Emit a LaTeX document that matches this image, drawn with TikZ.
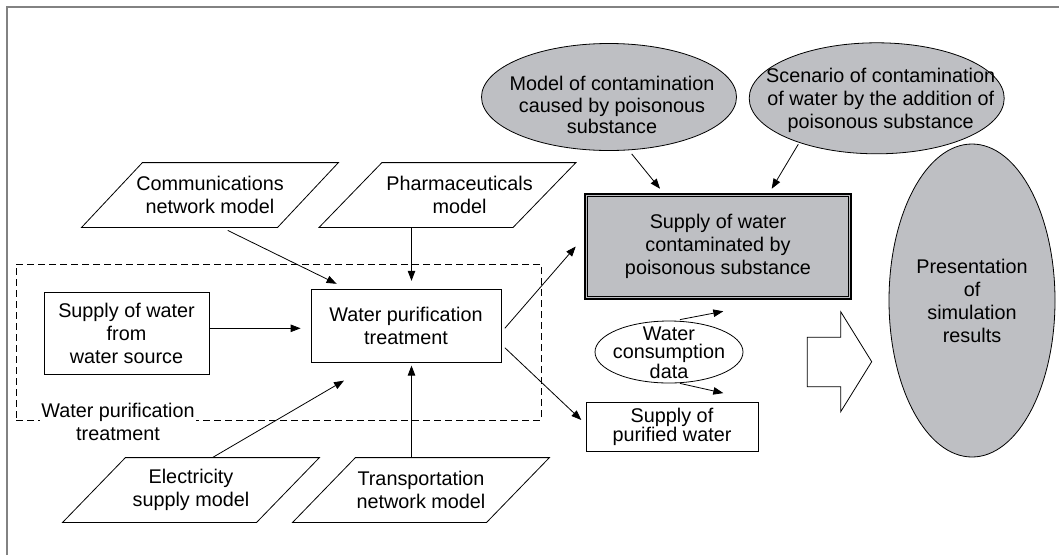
\documentclass[tikz,border=0pt]{standalone}
\usepackage{fontspec}
\setmainfont{Liberation Sans}
\usetikzlibrary{arrows.meta,calc,shapes.geometric}
\definecolor{fillgray}{RGB}{190,191,195}
\definecolor{framegray}{RGB}{130,130,130}
\begin{document}
\begin{tikzpicture}[x=1pt,y=-1pt,line width=0.8pt,
  every node/.style={font=\fontsize{19.8pt}{23pt}\selectfont,align=center,inner sep=0pt},
  box/.style={draw,rectangle},
  para/.style={rectangle,minimum width=256pt,minimum height=64pt},
  ell/.style={draw,ellipse,fill=fillgray},
  arr/.style={-{Triangle[length=10pt,width=7.5pt]}}]
\useasboundingbox (0,0) rectangle (1059,555);
\draw[framegray,line width=1.2pt] (7,555) -- (7,7) -- (1059,7);
% group frame
\node[draw,dash pattern=on 7pt off 4pt,minimum width=525pt,minimum height=156pt] (grp) at (278.5,342) {};
\node[box,minimum width=165pt,minimum height=82pt] (supply) at (126.5,333) {Supply of water\\from\\water source};
\node[box,minimum width=190pt,minimum height=73pt] (wpt) at (406,325.7) {Water purification\\treatment};
\node[fill=white,inner sep=1pt] (grplabel) at (118,421.7) {Water purification\\treatment};
% parallelograms
\node[para] (comm) at (210,195) {Communications\\network model};
\draw (comm.south west) -- ++(196,0) -- (comm.north east) -- ++(-196,0) -- cycle;
\node[para] (pharm) at (447.5,195) {\hspace*{24pt}Pharmaceuticals\\\hspace*{24pt}model};
\draw (pharm.south west) -- ++(194,0) -- (pharm.north east) -- ++(-194,0) -- cycle;
\node[para] (elec) at (191,490) {Electricity\\supply model};
\draw (elec.south west) -- ++(194,0) -- (elec.north east) -- ++(-194,0) -- cycle;
\node[para] (trans) at (421,490) {Transportation\\network model};
\draw (trans.south west) -- ++(194,0) -- (trans.north east) -- ++(-194,0) -- cycle;
% right part
\node[ell,minimum width=255pt,minimum height=107pt] (model) at (609,97) {};
\node[font=\fontsize{19.8pt}{21.5pt}\selectfont] (modeltext) at (612,105) {Model of contamination\\caused by poisonous\\substance};
\node[ell,minimum width=255pt,minimum height=111pt] (scen) at (876.7,98.3) {};
\node (scentext) at (880.7,100) {Scenario of contamination\\of water by the addition of\\poisonous substance};
\node[draw,line width=2.5pt,fill=fillgray,minimum width=266pt,minimum height=105pt] (contam) at (718,246.5) {Supply of water\\contaminated by\\poisonous substance};
\draw[line width=1.3pt] ($(contam.south west)+(4,-4)$) rectangle ($(contam.north east)+(-4,4)$);
\node[draw,ellipse,minimum width=148pt,minimum height=62pt] (wc) at (669,352) {};
\node[font=\fontsize{19.8pt}{18pt}\selectfont] (wctext) at (669,353) {Water\\consumption\\data};
\node[box,minimum width=172pt,minimum height=49pt,font=\fontsize{19.8pt}{19.5pt}\selectfont] (pur) at (672,427) {Supply of\\purified water};
\node[ell,minimum width=166pt,minimum height=313pt] (pres) at (972,300.5) {Presentation\\of\\simulation\\results};
% block arrow
\draw[fill=white] (807.3,337.3) -- (840.7,337.3) -- (840.7,311.7) -- (871.7,361.7) -- (840.7,411.7) -- (840.7,386.7) -- (807.3,386.7) -- cycle;
% connectors
\draw[arr] ($(comm.south)+(17.7,3)$) -- ($(wpt.north west)+(26,-5)$);
\coordinate (ph) at ($(wpt.north)+(5.5,-8)$);
\draw[arr] (ph |- pharm.south) -- (ph);
\coordinate (sp) at ($(supply.east)+(0,-4.7)$);
\draw[arr] (sp) -- ($(sp -| wpt.west)+(-10,0)$);
\draw[arr] ($(elec.north)+(21.4,0)$) -- ($(wpt.south west)+(33.4,18)$);
\coordinate (tr) at ($(wpt.south)+(5.5,3)$);
\draw[arr] (tr |- trans.north) -- (tr);
\draw[arr] ($(wpt.east)+(3.4,2.6)$) -- ($(contam.west)+(-8,0)$);
\draw[arr] ($(wpt.east)+(3.4,22)$) -- ($(pur.west)+(-4.3,-7)$);
\draw[arr] ($(model.south)+(22.7,3)$) -- ($(contam.north)+(-58,-4)$);
\draw[arr] ($(scen.south)+(-78.4,-10)$) -- ($(contam.north)+(53.7,-4)$);
\coordinate (wcup) at ($(wc.north)+(54.3,-9.3)$);
\coordinate (wcdn) at ($(wc.south)+(54.3,9.7)$);
\draw[arr] ($(wc.north)+(11,-1)$) -- (wcup);
\draw[arr] ($(wc.south)+(11,0)$) -- (wcdn);
\end{tikzpicture}
\end{document}
